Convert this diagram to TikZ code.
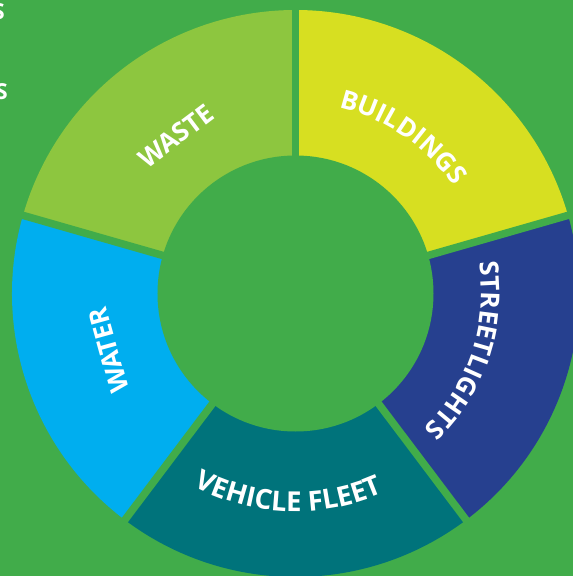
\documentclass[tikz,border=0pt]{standalone}
\usepackage{fontspec}
\setmainfont{Open Sans}
\usetikzlibrary{decorations.text}

\definecolor{bggreen}{HTML}{41AC4A}
\definecolor{wastegreen}{HTML}{8DC63F}
\definecolor{buildyellow}{HTML}{D7DF21}
\definecolor{lightblue}{HTML}{26408F}
\definecolor{waterblue}{HTML}{00AEEF}
\definecolor{fleetteal}{HTML}{00737B}

\newcommand\segfont{\bfseries\fontsize{26}{26}\selectfont}
\newcommand\fleetfont{\bfseries\fontsize{27.5}{27.5}\selectfont}

\begin{document}
\begin{tikzpicture}[x=1pt,y=1pt,
  gapline/.style={draw=bggreen, line width=7.5pt},
  flatlabel/.style={text=white, font=\segfont, inner sep=0pt},
  edgetext/.style={text=white, font=\bfseries\fontsize{22}{22}\selectfont, inner sep=0pt, anchor=base east}
]
  % page frame
  \useasboundingbox (-295.5,-282.5) rectangle (277.5,293.5);
  \clip (-295.5,-282.5) rectangle (277.5,293.5);
  \fill[bggreen] (-295.5,-282.5) rectangle (277.5,293.5);

  \coordinate (C) at (0,0);

  % ring segments (pie slices, centre covered later)
  \fill[wastegreen]  (C) -- (90:283.5pt)  arc[start angle=90,  end angle=164, radius=283.5pt] -- cycle;
  \fill[waterblue]   (C) -- (164:283.5pt) arc[start angle=164, end angle=233, radius=283.5pt] -- cycle;
  \fill[fleetteal]   (C) -- (233:283.5pt) arc[start angle=233, end angle=307, radius=283.5pt] -- cycle;
  \fill[lightblue]   (C) -- (-53:283.5pt) arc[start angle=-53,  end angle=16,  radius=283.5pt] -- cycle;
  \fill[buildyellow] (C) -- (16:283.5pt)  arc[start angle=16,  end angle=90,  radius=283.5pt] -- cycle;

  % separating gaps
  \foreach \a in {16,90,164,233,307}
    \draw[gapline] (C) -- (\a:300pt);

  % hub
  \fill[bggreen] (C) circle[radius=138pt];

  % straight labels
  \node[flatlabel, rotate=37] (waste) at (-119.5,157.5) {WASTE};
  \node[flatlabel, rotate=105.5] (water) at (-186.75,-57) {WATER};

  % curved labels
  \path[decorate, decoration={text along path, text align=center, text color=white,
      text={|\segfont|BUILDINGS}}]
    (92:191pt) arc[start angle=92, end angle=19, radius=191pt];
  \path[decorate, decoration={text along path, text align=center, text color=white,
      text={|\segfont|STREETLIGHTS}}]
    (16:186pt) arc[start angle=16, end angle=-53, radius=186pt];
  \path[decorate, decoration={text along path, text align=center, text color=white,
      text={|\fleetfont|VEHICLE FLEET}}]
    (231:218pt) arc[start angle=231, end angle=305, radius=218pt];

  % word endings at the left edge
  \node[edgetext] (s1) at (-290.5,273.5) {S};
  \node[edgetext] (s2) at (-287.5,193.5) {S};
\end{tikzpicture}
\end{document}
